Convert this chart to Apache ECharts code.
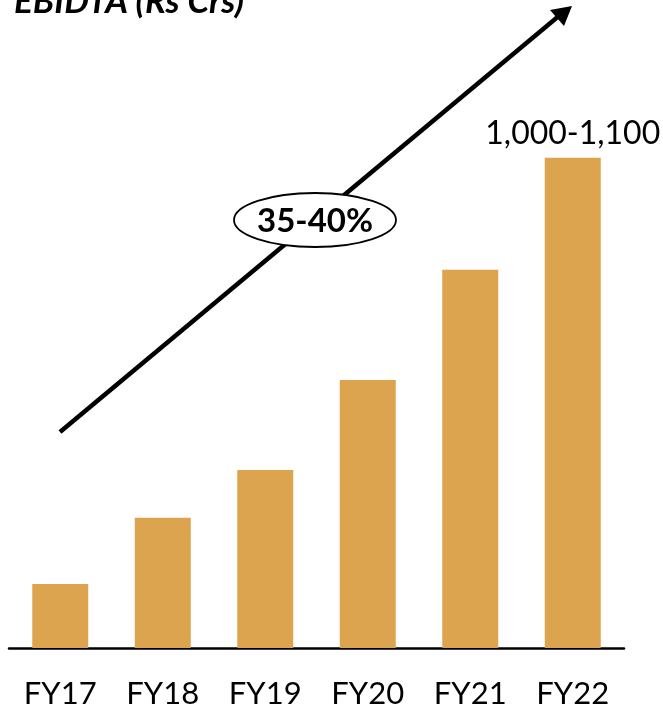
<!DOCTYPE html>
<html>
<head>
<meta charset="utf-8">
<script src="https://cdn.jsdelivr.net/npm/echarts@6/dist/echarts.min.js"></script>
<style>
html,body{margin:0;padding:0;background:#fff;}
#c{width:663px;height:711px;}
</style>
</head>
<body>
<div id="c"></div>
<script>
const categories = ['FY17', 'FY18', 'FY19', 'FY20', 'FY21', 'FY22'];
const ebitda = [137, 279, 381, 574, 810, 1050];
const barLabels = ['', '', '', '', '', '1,000-1,100'];
const titleText = 'EBIDTA (Rs Crs)';
const cagrText = '35-40%';

const FONT = 'Lato, "Open Sans", sans-serif';
const chart = echarts.init(document.getElementById('c'));
chart.setOption({
  animation: false,
  backgroundColor: '#ffffff',
  grid: { left: 9, width: 615, bottom: 63, top: 41, containLabel: false },
  xAxis: {
    type: 'category',
    data: categories,
    axisLine: { show: true, lineStyle: { color: '#000', width: 2.5 } },
    axisTick: { show: false },
    axisLabel: { color: '#000', fontSize: 31, fontFamily: FONT, margin: 30 }
  },
  yAxis: {
    type: 'value', min: 0, max: 1300, show: false,
    splitLine: { show: false }
  },
  series: [{
    type: 'bar',
    data: ebitda,
    barWidth: 56,
    itemStyle: { color: '#DCA44F' },
    label: {
      show: true, position: 'top', distance: 8,
      color: '#000', fontSize: 32, fontFamily: FONT,
      formatter: p => barLabels[p.dataIndex]
    }
  }],
  graphic: [
    {
      type: 'text', left: 14, top: -16,
      style: { text: titleText, fontSize: 35, fontWeight: 'bold', fontStyle: 'italic', fontFamily: FONT, fill: '#000' }
    },
    {
      type: 'line', z: 10,
      shape: { x1: 60, y1: 432, x2: 560, y2: 15 },
      style: { stroke: '#000', lineWidth: 4.5 }
    },
    {
      type: 'polygon', z: 10,
      shape: { points: [[572, 6], [564, 26], [550, 10]] },
      style: { fill: '#000' }
    },
    {
      type: 'ellipse', z: 20,
      shape: { cx: 315, cy: 220, rx: 81, ry: 27 },
      style: { fill: '#fff', stroke: '#000', lineWidth: 1.8 }
    },
    {
      type: 'text', z: 30, x: 315, y: 221,
      style: { text: cagrText, fontSize: 33, fontWeight: 'bold', fontFamily: FONT, fill: '#000', align: 'center', verticalAlign: 'middle' }
    }
  ]
});
</script>
</body>
</html>
